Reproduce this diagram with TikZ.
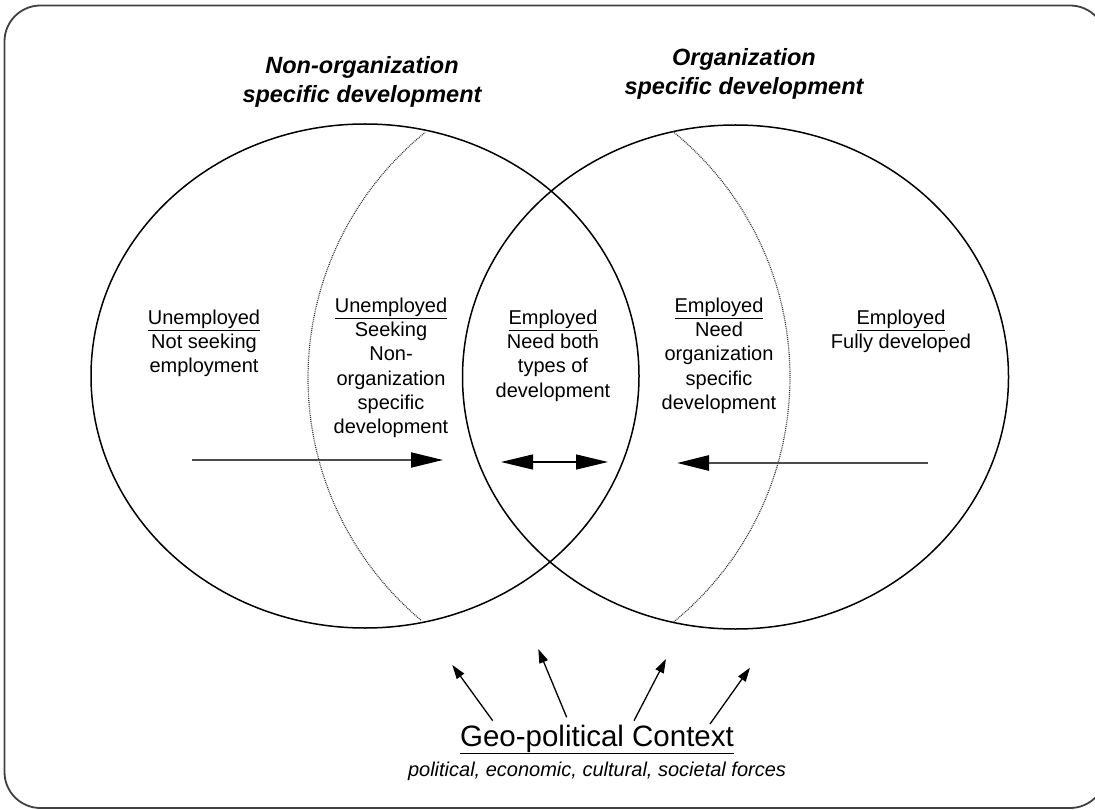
\documentclass[tikz,border=0pt]{standalone}
\usepackage{fontspec}
\setmainfont{Liberation Sans}
\usetikzlibrary{arrows.meta}

\begin{document}
\begin{tikzpicture}[x=1pt,y=-1pt,thick,
  region/.style={font=\fontsize{20}{24.3}\selectfont,align=center,anchor=north,inner sep=0pt},
  heading/.style={font=\fontsize{23.5}{29}\selectfont\bfseries\itshape,align=center,inner sep=0pt},
  bigarrow/.style={-{Triangle[length=32pt,width=15pt,color=black]},line width=2pt,draw=black!70},
  forcearrow/.style={-{Triangle[length=14pt,width=9pt]},line width=1.3pt},
  sector/.style={dash pattern=on 0.9pt off 1pt,line width=1.2pt,draw=black!80}]
  \useasboundingbox (0,0) rectangle (1095,810);
  \draw[line width=1.8pt,draw=black!75,rounded corners=36pt] (4.5,5.5) rectangle (1106,808);

  % the two fields of development
  \draw[line width=1.5pt] (365,376) ellipse [x radius=274pt,y radius=252pt];
  \draw[line width=1.5pt] (735.5,377) ellipse [x radius=273pt,y radius=252pt];
  \draw[sector] plot[domain=130:231,samples=80,variable=\t] ({624+316*cos(\t)},{378+316*sin(\t)});
  \draw[sector] plot[domain=-51:51,samples=80,variable=\t] ({474+316*cos(\t)},{377+316*sin(\t)});

  \node[heading] (nonorg) at (362,81.5) {Non-organization\\specific development};
  \node[heading] (org) at (744,73.5) {Organization\\specific development};

  \node[region] (idle) at (204,309.5) {\underline{Unemployed}\\Not seeking\\employment};
  \node[region] (seeking) at (391,297.5) {\underline{Unemployed}\\Seeking\\Non-\\organization\\specific\\development};
  \node[region] (both) at (553,309.5) {\underline{Employed}\\Need both\\types of\\development};
  \node[region] (needorg) at (719,297.5) {\underline{Employed}\\Need\\organization\\specific\\development};
  \node[region] (full) at (901,309.5) {\underline{Employed}\\Fully developed};

  % movement between the groups
  \coordinate (lt) at (192,460);
  \coordinate (lh) at (443,460);
  \coordinate (ml) at (501,462);
  \coordinate (mr) at (608,462);
  \coordinate (rt) at (928,463);
  \coordinate (rh) at (677,463);
  \draw[bigarrow] (lt) -- (lh);
  \draw[{Triangle[length=32pt,width=15pt]}-{Triangle[length=32pt,width=15pt]},line width=1.2pt] (ml) -- (mr);
  \draw[bigarrow,line width=2.6pt] (rt) -- (rh);

  \node[font=\fontsize{29.5}{32}\selectfont,inner sep=0pt,anchor=base] (context) at (597,746) {\underline{Geo-political Context}};
  \node[font=\fontsize{20}{24}\selectfont\itshape,inner sep=0pt,anchor=base] (forces) at (597,776) {political, economic, cultural, societal forces};

  % forces acting on the groups
  \coordinate (f1) at (492.7,720.7);
  \coordinate (f2) at (566.7,717.3);
  \coordinate (f3) at (634,720.7);
  \coordinate (f4) at (710,724);
  \coordinate (p1) at (452.3,665);
  \coordinate (p2) at (538.3,649);
  \coordinate (p3) at (666,659);
  \coordinate (p4) at (750,667.7);
  \draw[forcearrow] (f1) -- (p1);
  \draw[forcearrow] (f2) -- (p2);
  \draw[forcearrow] (f3) -- (p3);
  \draw[forcearrow] (f4) -- (p4);
\end{tikzpicture}
\end{document}
